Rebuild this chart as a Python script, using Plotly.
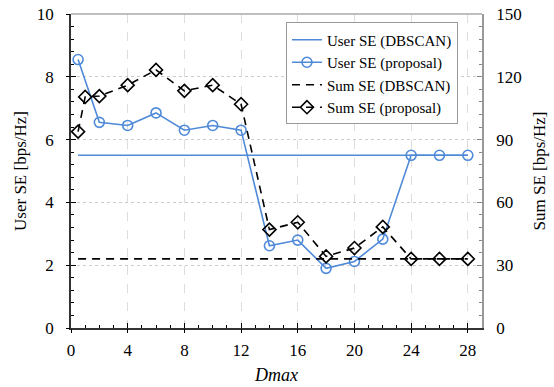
import plotly.graph_objects as go

x_prop = [0.5, 1, 2, 4, 6, 8, 10, 12, 14, 16, 18, 20, 22, 24, 26, 28]
user_prop_x = [0.5, 2, 4, 6, 8, 10, 12, 14, 16, 18, 20, 22, 24, 26, 28]
user_se_proposal = [8.55, 6.55, 6.45, 6.85, 6.3, 6.45, 6.3, 2.62, 2.8, 1.9, 2.12, 2.83, 5.5, 5.5, 5.5]
user_se_dbscan_x = [0.5, 28]
user_se_dbscan = [5.5, 5.5]
sum_se_proposal = [93.8, 110.4, 110.8, 116, 123.3, 113.3, 116, 106.9, 47, 50.5, 34.2, 38.2, 48.3, 33, 33, 33]
sum_se_dbscan_x = [0.5, 28]
sum_se_dbscan = [33, 33]

BLUE = "#4f8ad9"
FONT = "Times New Roman, Liberation Serif, serif"

fig = go.Figure()
fig.add_trace(go.Scatter(x=user_se_dbscan_x, y=user_se_dbscan, mode="lines",
                         line=dict(color=BLUE, width=1.6), name="User SE (DBSCAN)"))
fig.add_trace(go.Scatter(x=user_prop_x, y=user_se_proposal, mode="lines+markers",
                         line=dict(color=BLUE, width=1.6),
                         marker=dict(symbol="circle-open", size=10, color=BLUE, line=dict(width=1.6)),
                         name="User SE (proposal)"))
fig.add_trace(go.Scatter(x=sum_se_dbscan_x, y=sum_se_dbscan, mode="lines", yaxis="y2",
                         line=dict(color="black", width=1.6, dash="8px,6px"), name="Sum SE (DBSCAN)"))
fig.add_trace(go.Scatter(x=x_prop, y=sum_se_proposal, mode="lines+markers", yaxis="y2",
                         line=dict(color="black", width=1.6, dash="8px,6px"),
                         marker=dict(symbol="diamond-open", size=10, color="black", line=dict(width=1.6)),
                         name="Sum SE (proposal)"))

tickfont = dict(family=FONT, size=17, color="black")
fig.update_layout(
    width=554, height=387,
    margin=dict(l=71, r=72, t=14, b=59, autoexpand=False),
    plot_bgcolor="white", paper_bgcolor="white",
    font=dict(family=FONT, size=15, color="black"),
    showlegend=True,
    legend=dict(x=0.523, y=0.973, xanchor="left", yanchor="top",
                bgcolor="white", bordercolor="#999999", borderwidth=1,
                font=dict(family=FONT, size=15), tracegroupgap=0, itemwidth=30),
    xaxis=dict(range=[0, 29], tickvals=[0, 4, 8, 12, 16, 20, 24, 28], automargin=False,
               ticks="inside", ticklen=5, tickwidth=1, tickcolor="black",
               showline=True, linecolor="#333333", linewidth=1.5,
               showgrid=True, gridcolor="#dddddd", griddash="dash", gridwidth=1,
               zeroline=False, tickfont=tickfont, ticklabelstandoff=6,
               minor=dict(dtick=1, ticks="inside", ticklen=3, tickcolor="black", showgrid=False),
               title=dict(text="<i>Dmax</i>", font=dict(family=FONT, size=18), standoff=9)),
    yaxis=dict(range=[0, 10], tickvals=[0, 2, 4, 6, 8, 10], automargin=False,
               ticks="inside", ticklen=5, tickcolor="black",
               showline=True, linecolor="#333333", linewidth=1.5,
               showgrid=True, gridcolor="#cccccc", griddash="dot", gridwidth=1,
               zeroline=False, tickfont=tickfont, ticklabelstandoff=12,
               minor=dict(dtick=0.4, ticks="inside", ticklen=3, tickcolor="black", showgrid=False),
               title=dict(text="User SE [bps/Hz]", font=dict(family=FONT, size=17), standoff=6)),
    yaxis2=dict(range=[0, 150], tickvals=[0, 30, 60, 90, 120, 150], overlaying="y", side="right",
                automargin=False,
                ticks="inside", ticklen=5, tickcolor="#888888",
                showline=True, linecolor="#999999", linewidth=1.5,
                showgrid=False, zeroline=False, tickfont=tickfont, ticklabelstandoff=9,
                minor=dict(dtick=6, ticks="inside", ticklen=3, tickcolor="#888888", showgrid=False),
                title=dict(text="Sum SE [bps/Hz]", font=dict(family=FONT, size=17), standoff=12)),
    xaxis2=dict(range=[0, 29], overlaying="x", tickvals=[0, 4, 8, 12, 16, 20, 24, 28], automargin=False,
                ticks="outside", ticklen=4, tickcolor="black", showticklabels=False,
                showgrid=False, showline=False, zeroline=False, anchor="y"),
    yaxis3=dict(range=[0, 10], overlaying="y", tickvals=[0, 2, 4, 6, 8, 10], automargin=False,
                ticks="outside", ticklen=4, tickcolor="black", showticklabels=False,
                showgrid=False, showline=False, zeroline=False, anchor="x"),
)
fig.add_trace(go.Scatter(x=[None], y=[None], xaxis="x2", yaxis="y3", showlegend=False, hoverinfo="skip"))
fig.add_shape(type="line", xref="paper", yref="paper", x0=0, x1=1, y0=1, y1=1,
              line=dict(color="#aaaaaa", width=1.5))

fig.write_html("out.html", config={"displayModeBar": False},
               post_script="document.body.style.margin='0';document.body.style.padding='0';")
